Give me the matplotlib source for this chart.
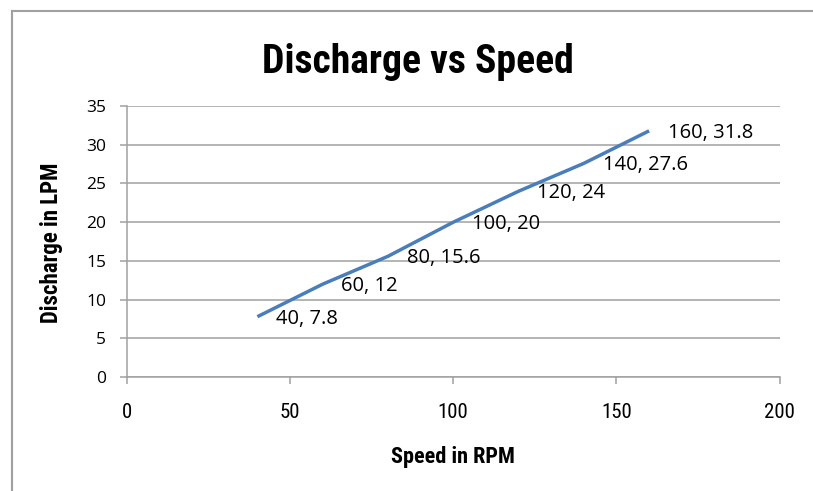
import matplotlib
matplotlib.use('Agg')
import matplotlib.pyplot as plt
from matplotlib.lines import Line2D
from matplotlib import font_manager

speed = [40, 60, 80, 100, 120, 140, 160]  # RPM
discharge = [7.8, 12, 15.6, 20, 24, 27.6, 31.8]  # LPM
x_ticks = [0, 50, 100, 150, 200]
y_ticks = [0, 5, 10, 15, 20, 25, 30, 35]

names = {f.name for f in font_manager.fontManager.ttflist}
narrow = [n for n in ['Roboto Condensed', 'Liberation Sans Narrow'] if n in names] + ['DejaVu Sans']
body = [n for n in ['Open Sans', 'Roboto'] if n in names] + ['DejaVu Sans']
grey = '#a0a0a0'

fig = plt.figure(figsize=(8.13, 4.91), dpi=100)
ax = fig.add_axes([0.156, 0.232, 0.803, 0.552])

ax.plot(speed, discharge, color='#4a7ebb', lw=2.5, solid_capstyle='butt')

# подписи точек справа от точки
for s, d in zip(speed, discharge):
    ax.annotate(f'{s}, {d:g}', (s, d), xytext=(13.5, -1.5), textcoords='offset points',
                va='center', ha='left', fontsize=14.5, family=body, color='black')

ax.set_xlim(0, 200)
ax.set_ylim(0, 35)
ax.set_xticks(x_ticks)
ax.set_yticks(y_ticks)
ax.set_xticklabels([str(t) for t in x_ticks], family=narrow, fontsize=15)
ax.set_yticklabels([str(t) for t in y_ticks], family=body, fontsize=12.5)
ax.yaxis.grid(True, color=grey, lw=1.1)
ax.set_axisbelow(True)
for side in ['top', 'right']:
    ax.spines[side].set_visible(False)
for side in ['left', 'bottom']:
    ax.spines[side].set_color(grey)
    ax.spines[side].set_linewidth(1.1)
ax.tick_params(axis='x', colors=grey, labelcolor='black', length=5, width=1.1, pad=14)
ax.tick_params(axis='y', colors=grey, labelcolor='black', length=5, width=1.1, pad=10)

fig.text(0.557, 1 - 463 / 491, 'Speed in RPM', ha='center', va='baseline',
         family=narrow, fontsize=16, fontweight='bold')
fig.text(52 / 813, 1 - 243 / 491, 'Discharge in LPM', ha='center', va='center',
         rotation=90, family=narrow, fontsize=16.5, fontweight='bold')

fig.text(0.514, 1 - 73 / 491, 'Discharge vs Speed', ha='center', va='baseline',
         family=narrow, fontsize=28.5, fontweight='bold')

# рамка области диаграммы
fig.add_artist(Line2D([11.5 / 813, 11.5 / 813], [0, 1 - 11 / 491], color=grey, lw=1.5,
                      transform=fig.transFigure))
fig.add_artist(Line2D([11.5 / 813, 1], [1 - 11 / 491, 1 - 11 / 491], color=grey, lw=1.5,
                      transform=fig.transFigure))

fig.savefig('out.png', dpi=100)
